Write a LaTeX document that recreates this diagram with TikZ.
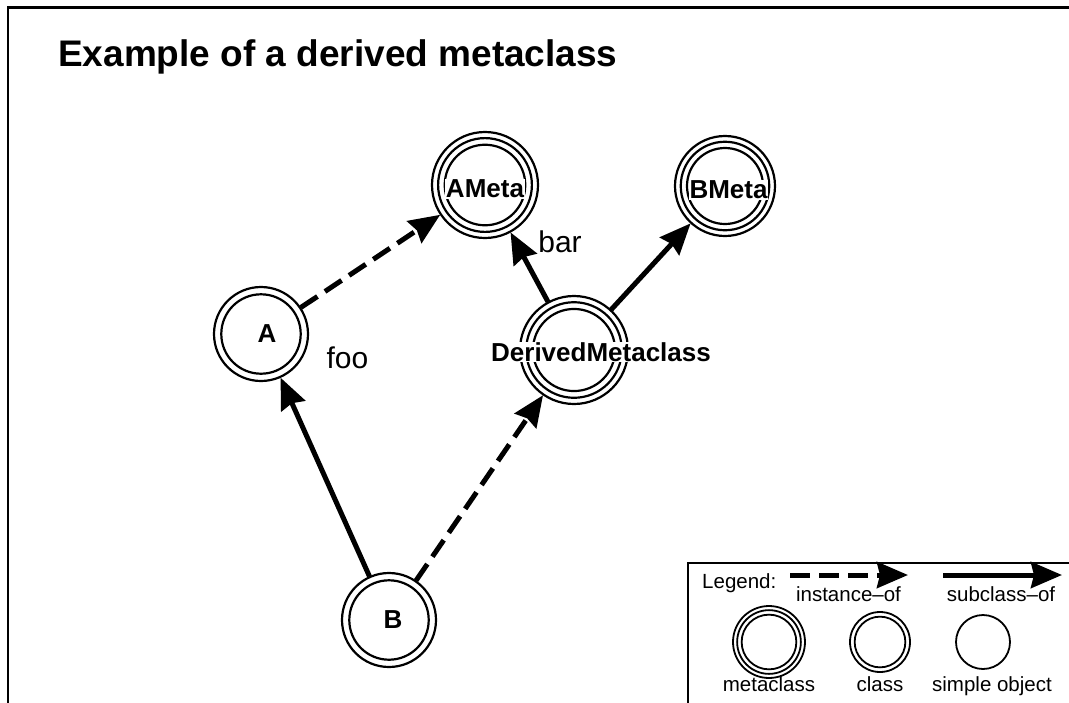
\documentclass[tikz,border=0pt]{standalone}
\usepackage{fontspec}
\setmainfont{Liberation Sans}
\usetikzlibrary{positioning,arrows.meta}
\tikzset{
  frame/.style={draw=black, line width=2.8pt},
  legendbox/.style={draw=black, line width=1.2pt},
  title/.style={font=\fontsize{37pt}{44pt}\selectfont\bfseries, inner sep=0pt},
  nodetext/.style={font=\fontsize{26pt}{31pt}\selectfont\bfseries, fill=white, inner sep=0.5pt},
  edgetext/.style={font=\fontsize{30pt}{36pt}\selectfont, inner sep=0pt},
  legendtext/.style={font=\fontsize{20.5pt}{25pt}\selectfont, inner sep=0pt},
  metaclass/.style={circle, draw, line width=2.2pt, inner sep=0pt, outer sep=0.8pt,
    minimum size=2*#1, path picture={\draw
      (path picture bounding box.center) circle[radius=0.885*#1] circle[radius=0.76*#1];}},
  classnode/.style={circle, draw, line width=2.2pt, inner sep=0pt, outer sep=0.8pt,
    minimum size=2*#1, path picture={\draw
      (path picture bounding box.center) circle[radius=0.845*#1];}},
  plainnode/.style={circle, draw, line width=1.8pt, inner sep=0pt, minimum size=2*#1},
  instanceof/.style={-{Stealth[length=31pt, width=26pt, inset=3pt]}, line width=5pt,
    dash pattern=on 20pt off 9pt},
  subclassof/.style={-{Stealth[length=31pt, width=26pt, inset=3pt]}, line width=5pt},
}
\begin{document}
\begin{tikzpicture}[x=1pt, y=-1pt]
\useasboundingbox (0,0) rectangle (1069,702);
\begin{scope}
  \clip (0,0) rectangle (1069,702);
  \draw[frame] (8,7.5) rectangle (1100,740);
  \draw[legendbox] (688,563) rectangle (1100,740);
\end{scope}
\node[title, anchor=base west] (title) at (58,66.7) {Example of a derived metaclass};
% the diagram
\node[metaclass=53pt, label={[nodetext, yshift=-4pt]center:AMeta}] (AMeta) at (485,185) {};
\node[metaclass=50pt, label={[nodetext, xshift=3.5pt, yshift=-4pt]center:BMeta}] (BMeta) at (725,186) {};
\node[metaclass=54pt, label={[nodetext, xshift=27pt, yshift=-2pt]center:DerivedMetaclass}] (DM) at (574,350) {};
\node[classnode=47pt, label={[nodetext, xshift=6pt]center:A}] (A) at (261,334) {};
\node[classnode=47pt, label={[nodetext, xshift=4pt]center:B}] (B) at (389,620) {};
\draw[instanceof] (A) -- (AMeta);
\draw[subclassof] (DM) -- (AMeta);
\draw[subclassof] (DM) -- (BMeta);
\draw[subclassof] (B) -- (A);
\draw[instanceof] (B) -- (DM);
\node[edgetext, anchor=base] (foo) at (347.5,368) {foo};
\node[edgetext, anchor=base] (bar) at (560,252) {bar};
% the legend
\node[legendtext, anchor=base west] (legend) at (702,588) {Legend:};
\coordinate (iostart) at (790,575);
\coordinate (ioend) at (908,575);
\coordinate (scstart) at (943,575);
\coordinate (scend) at (1062,575);
\draw[instanceof] (iostart) -- (ioend);
\draw[subclassof] (scstart) -- (scend);
\node[legendtext, anchor=base] (iotext) at (848.5,601.7) {instance–of};
\node[legendtext, anchor=base] (sctext) at (1001,601.7) {subclass–of};
\node[metaclass=36pt, line width=1.8pt] (metakey) at (769,642) {};
\node[classnode=30pt, line width=1.8pt] (classkey) at (880,642) {};
\node[plainnode=27pt] (plainkey) at (983,642) {};
\node[legendtext, anchor=base] (metatext) at (769,691.5) {metaclass};
\node[legendtext, anchor=base] (classtext) at (880,691.5) {class};
\node[legendtext, anchor=base] (plaintext) at (992,691.5) {simple object};
\end{tikzpicture}
\end{document}
